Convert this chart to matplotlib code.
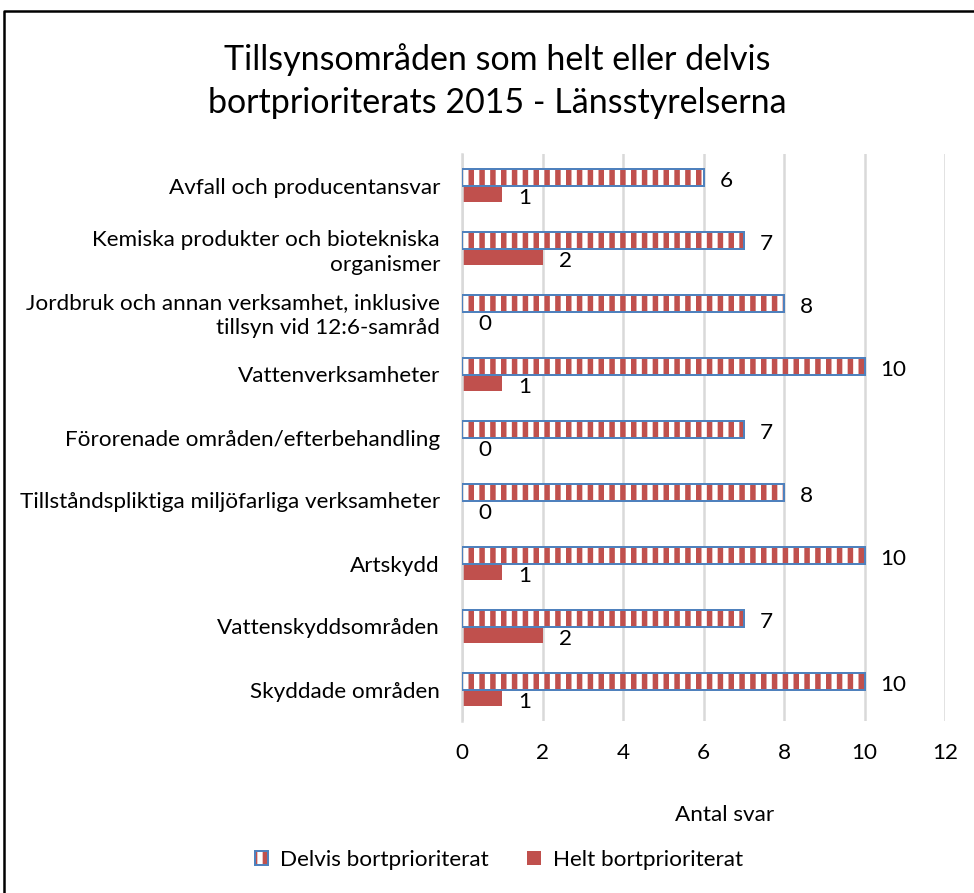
#!/usr/bin/env python3

import matplotlib.pyplot as plt
import numpy as np
from matplotlib.patches import Patch
from matplotlib.lines import Line2D
from matplotlib.legend_handler import HandlerTuple

categories = [
    'Avfall och producentansvar',
    'Kemiska produkter och biotekniska\norganismer',
    'Jordbruk och annan verksamhet, inklusive\ntillsyn vid 12:6-samråd',
    'Vattenverksamheter',
    'Förorenade områden/efterbehandling',
    'Tillståndspliktiga miljöfarliga verksamheter',
    'Artskydd',
    'Vattenskyddsområden',
    'Skyddade områden',
]
delvis = [6, 7, 8, 10, 7, 8, 10, 7, 10]
helt = [1, 2, 0, 1, 0, 0, 1, 2, 1]
xticks = [0, 2, 4, 6, 8, 10, 12]

RED = '#C0504D'
BLUE = '#4F81BD'
DPI = 130


def px(p):
    # pixel size -> points at this dpi
    return p * 72 / DPI


plt.rcParams['font.family'] = ['Lato', 'DejaVu Sans']
plt.rcParams['hatch.linewidth'] = px(5.5)

fig = plt.figure(figsize=(974 / DPI, 893 / DPI), dpi=DPI)
ax = fig.add_axes([462 / 974, 1 - 721 / 893, 483 / 974, 567 / 893])

# first category at the top
cats = categories[::-1]
d = delvis[::-1]
h = helt[::-1]
y = np.arange(len(cats))
bh = 0.254
fs = px(22.5)

ax.barh(y + bh / 2, d, height=bh, color='white', edgecolor=RED,
        hatch='||', linewidth=0, zorder=2)
ax.barh(y + bh / 2, d, height=bh, fill=False, edgecolor=BLUE,
        linewidth=px(2), zorder=3)
ax.barh(y - bh / 2, h, height=bh, color=RED, linewidth=0, zorder=2)

for yi, v in zip(y, d):
    ax.annotate(str(v), (v, yi + bh / 2), xytext=(px(16), -px(4)),
                textcoords='offset points', ha='left', va='center',
                fontsize=fs)
for yi, v in zip(y, h):
    ax.annotate(str(v), (v, yi - bh / 2), xytext=(px(16), -px(4)),
                textcoords='offset points', ha='left', va='center',
                fontsize=fs)

ax.set_xlim(0, 12)
ax.set_ylim(-0.5, len(cats) - 0.5)
ax.set_xticks(xticks)
ax.set_xticklabels([str(t) for t in xticks], fontsize=fs)
ax.set_yticks(y)
ax.set_yticklabels(cats, fontsize=fs, linespacing=1.3)
ax.tick_params(axis='both', length=0)
ax.tick_params(axis='x', pad=px(22))
ax.tick_params(axis='y', pad=px(22))
ax.grid(axis='x', color='#D9D9D9', linewidth=px(2.5), zorder=0)
ax.set_axisbelow(True)
for s in ['top', 'right', 'bottom']:
    ax.spines[s].set_visible(False)
ax.spines['left'].set_color('#D9D9D9')
ax.spines['left'].set_linewidth(px(2.5))

fig.text(497 / 974, 1 - 81 / 893,
         'Tillsynsområden som helt eller delvis\nbortprioriterats 2015 - Länsstyrelserna',
         ha='center', va='center', fontsize=px(34), linespacing=1.45)
fig.text(725 / 974, 1 - 815 / 893, 'Antal svar', ha='center', va='center',
         fontsize=fs)

h1 = (Patch(facecolor='white', edgecolor=RED, hatch='||', linewidth=0),
      Patch(fill=False, edgecolor=BLUE, linewidth=px(2)))
h2 = Patch(facecolor=RED, linewidth=0)
fig.legend([h1, h2], ['Delvis bortprioriterat', 'Helt bortprioriterat'],
           handler_map={tuple: HandlerTuple(ndivide=1, pad=0)},
           loc='center', bbox_to_anchor=(499 / 974, 1 - 860 / 893),
           ncol=2, frameon=False, fontsize=fs, handlelength=0.6,
           handleheight=0.6, handletextpad=0.55, columnspacing=1.7)

# figure border (only top and left visible)
fig.add_artist(Line2D([4 / 974, 4 / 974, 1], [0, 1 - 11 / 893, 1 - 11 / 893],
                      transform=fig.transFigure, color='black',
                      linewidth=px(2.5)))

fig.savefig('out.png', dpi=DPI)
